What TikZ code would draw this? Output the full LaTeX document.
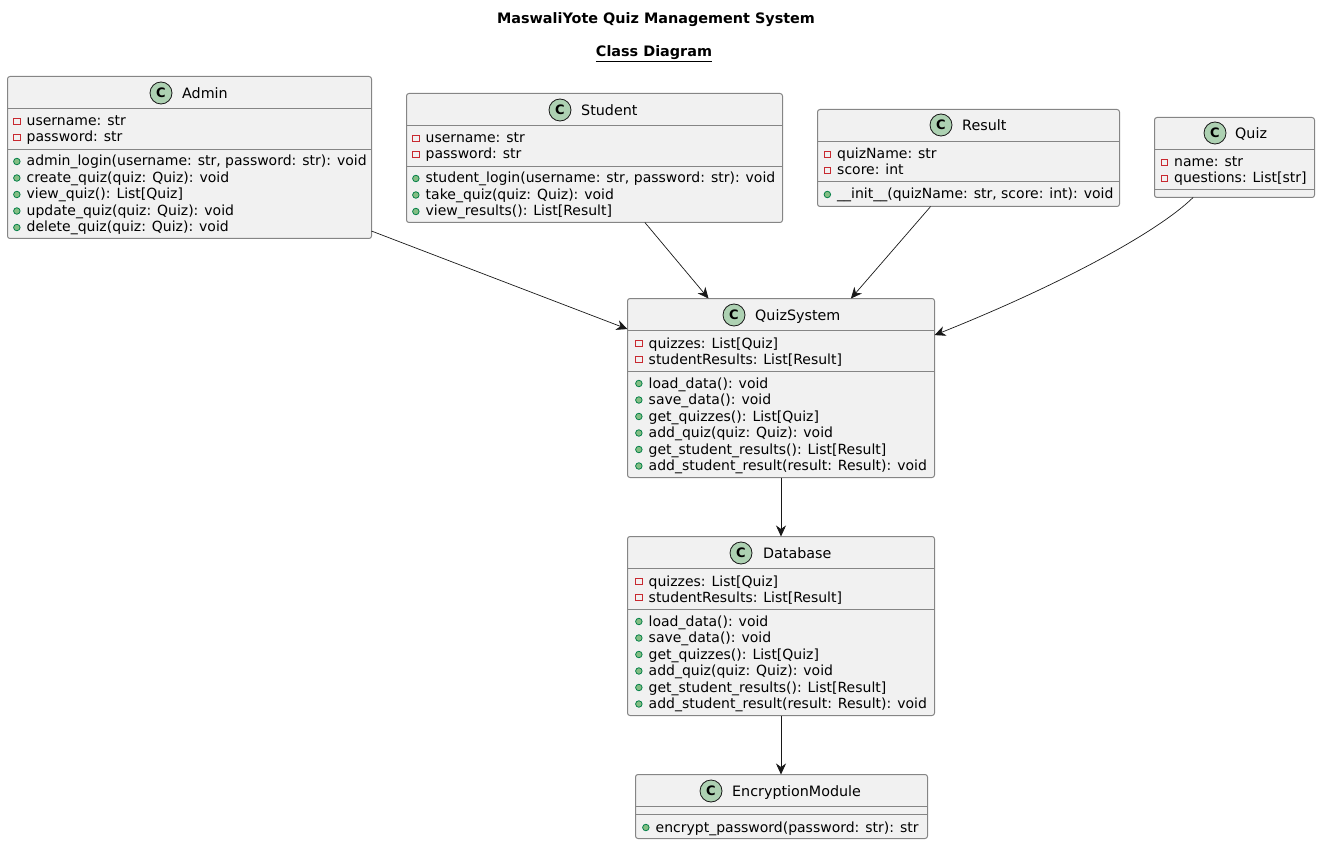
\documentclass[tikz,border=0pt]{standalone}
\usepackage{fontspec}
\setmainfont{DejaVu Sans}
\usetikzlibrary{arrows.meta}
\definecolor{boxfill}{HTML}{F1F1F1}
\definecolor{boxline}{HTML}{858585}
\definecolor{arrowline}{HTML}{181818}
\definecolor{spotfill}{HTML}{ADD1B2}
\definecolor{privred}{HTML}{C82930}
\definecolor{pubfill}{HTML}{84BE84}
\definecolor{publine}{HTML}{038048}
\tikzset{
        classbox/.style={draw=boxline, fill=boxfill, line width=1pt, rounded corners=2.5pt,
                         anchor=north west, inner sep=0pt, outer sep=0pt},
        divider/.style={draw=boxline, line width=1pt},
        spot/.style={circle, draw=arrowline, fill=spotfill, line width=0.8pt, minimum size=22pt,
                     inner sep=0pt, font=\fontsize{13}{13}\selectfont\bfseries},
        classname/.style={anchor=base west, inner sep=0pt, font=\fontsize{14.3}{16}\selectfont},
        member/.style={anchor=base west, inner sep=0pt, text height=11.5pt, text depth=2.5pt,
                       font=\fontsize{14}{16}\selectfont},
        privmark/.style={draw=privred, line width=0.8pt, minimum size=6.5pt, inner sep=0pt, xshift=-6pt},
        pubmark/.style={circle, draw=publine, fill=pubfill, line width=0.8pt, minimum size=6.5pt, inner sep=0pt, xshift=-6pt},
        priv/.style={member, label distance=4.5pt, label={[privmark]left:{}}},
        pub/.style={member, label distance=4.5pt, label={[pubmark]left:{}}},
        myarrow/.style={-{Stealth[length=11pt, width=10pt, inset=3.5pt]}, line width=0.7pt, draw=arrowline},
        titletext/.style={inner sep=0pt, anchor=base, font=\fontsize{14.4}{16}\selectfont\bfseries},
}
\begin{document}
\begin{tikzpicture}[x=1pt, y=-1pt]
    \useasboundingbox (0,0) rectangle (1320,845);

    \node[titletext] (maintitle) at (656,24) {MaswaliYote Quiz Management System};
    \node[titletext] (subtitle) at (654,57) {\underline{Class Diagram}};

    % Admin
    \node[classbox, minimum width=364pt, minimum height=162pt] (admin) at (7.5,76.5) {};
    \draw[divider] (7.5,108.5) -- (371.5,108.5);
    \draw[divider] (7.5,149.5) -- (371.5,149.5);
    \node[spot] (adminspot) at (161,93) {C};
    \node[classname] (adminname) at (182,99) {Admin};
    \node[priv] (admina1) at (26.5,126) {username: str};
    \node[priv] (admina2) at (26.5,142) {password: str};
    \node[pub] (adminm1) at (26.5,166) {admin\_login(username: str, password: str): void};
    \node[pub] (adminm2) at (26.5,182.5) {create\_quiz(quiz: Quiz): void};
    \node[pub] (adminm3) at (26.5,199) {view\_quiz(): List[Quiz]};
    \node[pub] (adminm4) at (26.5,215.5) {update\_quiz(quiz: Quiz): void};
    \node[pub] (adminm5) at (26.5,232) {delete\_quiz(quiz: Quiz): void};

    % Student
    \node[classbox, minimum width=376pt, minimum height=129pt] (student) at (406.5,93.5) {};
    \draw[divider] (406.5,125.5) -- (782.5,125.5);
    \draw[divider] (406.5,166.5) -- (782.5,166.5);
    \node[spot] (studentspot) at (560,110) {C};
    \node[classname] (studentname) at (581,116) {Student};
    \node[priv] (studenta1) at (425.5,143) {username: str};
    \node[priv] (studenta2) at (425.5,159) {password: str};
    \node[pub] (studentm1) at (425.5,183) {student\_login(username: str, password: str): void};
    \node[pub] (studentm2) at (425.5,199.5) {take\_quiz(quiz: Quiz): void};
    \node[pub] (studentm3) at (425.5,216) {view\_results(): List[Result]};

    % Result
    \node[classbox, minimum width=302pt, minimum height=97pt] (result) at (817.5,109.5) {};
    \draw[divider] (817.5,141.5) -- (1119.5,141.5);
    \draw[divider] (817.5,181.5) -- (1119.5,181.5);
    \node[spot] (resultspot) at (941,125) {C};
    \node[classname] (resultname) at (962,131) {Result};
    \node[priv] (resulta1) at (837,159) {quizName: str};
    \node[priv] (resulta2) at (837,175) {score: int};
    \node[pub] (resultm1) at (837,199) {\_\_init\_\_(quizName: str, score: int): void};

    % Quiz
    \node[classbox, minimum width=160pt, minimum height=80pt] (quiz) at (1154.5,117.5) {};
    \draw[divider] (1154.5,149.5) -- (1314.5,149.5);
    \draw[divider] (1154.5,189.5) -- (1314.5,189.5);
    \node[spot] (quizspot) at (1215,133) {C};
    \node[classname] (quizname) at (1235,139) {Quiz};
    \node[priv] (quiza1) at (1174,167) {name: str};
    \node[priv] (quiza2) at (1174,183) {questions: List[str]};

    % QuizSystem
    \node[classbox, minimum width=307pt, minimum height=179pt] (quizsystem) at (627.5,298.5) {};
    \draw[divider] (627.5,330.5) -- (934.5,330.5);
    \draw[divider] (627.5,371.5) -- (934.5,371.5);
    \node[spot] (quizsystemspot) at (734,315) {C};
    \node[classname] (quizsystemname) at (755,320) {QuizSystem};
    \node[priv] (quizsystema1) at (648.5,348) {quizzes: List[Quiz]};
    \node[priv] (quizsystema2) at (648.5,364) {studentResults: List[Result]};
    \node[pub] (quizsystemm1) at (648.5,388) {load\_data(): void};
    \node[pub] (quizsystemm2) at (648.5,404.5) {save\_data(): void};
    \node[pub] (quizsystemm3) at (648.5,421) {get\_quizzes(): List[Quiz]};
    \node[pub] (quizsystemm4) at (648.5,437.5) {add\_quiz(quiz: Quiz): void};
    \node[pub] (quizsystemm5) at (648.5,454) {get\_student\_results(): List[Result]};
    \node[pub] (quizsystemm6) at (648.5,470.5) {add\_student\_result(result: Result): void};

    % Database
    \node[classbox, minimum width=307pt, minimum height=179pt] (database) at (627.5,536.5) {};
    \draw[divider] (627.5,568.5) -- (934.5,568.5);
    \draw[divider] (627.5,609.5) -- (934.5,609.5);
    \node[spot] (databasespot) at (741,553) {C};
    \node[classname] (databasename) at (763,558) {Database};
    \node[priv] (databasea1) at (648.5,586) {quizzes: List[Quiz]};
    \node[priv] (databasea2) at (648.5,602) {studentResults: List[Result]};
    \node[pub] (databasem1) at (648.5,626) {load\_data(): void};
    \node[pub] (databasem2) at (648.5,642.5) {save\_data(): void};
    \node[pub] (databasem3) at (648.5,659) {get\_quizzes(): List[Quiz]};
    \node[pub] (databasem4) at (648.5,675.5) {add\_quiz(quiz: Quiz): void};
    \node[pub] (databasem5) at (648.5,692) {get\_student\_results(): List[Result]};
    \node[pub] (databasem6) at (648.5,708.5) {add\_student\_result(result: Result): void};

    % EncryptionModule
    \node[classbox, minimum width=292pt, minimum height=64pt] (encryption) at (635.5,774.5) {};
    \draw[divider] (635.5,806.5) -- (927.5,806.5);
    \draw[divider] (635.5,814.5) -- (927.5,814.5);
    \node[spot] (encryptionspot) at (711,791) {C};
    \node[classname] (encryptionname) at (732,796) {EncryptionModule};
    \node[pub] (encryptionm1) at (655.5,832) {encrypt\_password(password: str): str};

    \draw[myarrow] (admin.-22.3) -- (quizsystem.159.3);
    \draw[myarrow] (student.-52) -- (quizsystem.129.3);
    \draw[myarrow] (result.-128.4) -- (quizsystem.52);
    \draw[myarrow] (quiz.-136.7) .. controls (1158,232) and (1060,285) .. (quizsystem.19.4);
    \draw[myarrow] (quizsystem.south) -- (database.north);
    \draw[myarrow] (database.south) -- (database.south |- encryption.north);
\end{tikzpicture}
\end{document}
